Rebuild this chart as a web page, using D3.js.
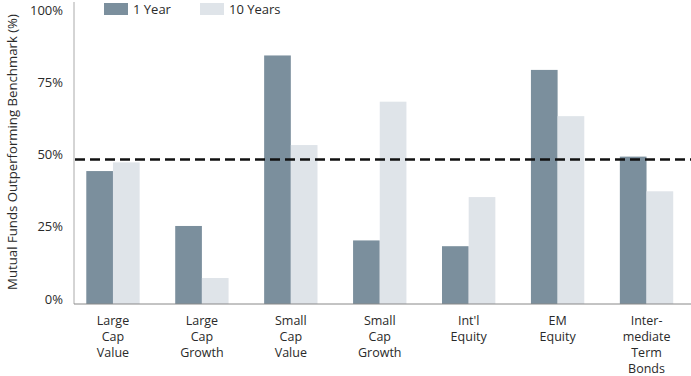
<!DOCTYPE html>
<html>
<head>
<meta charset="utf-8">
<script src="https://cdn.jsdelivr.net/npm/d3@7"></script>
<style>
  body { margin: 0; background: #fff; }
  text { font-family: "Open Sans", "Noto Sans", sans-serif; fill: #2a2a2a; }
</style>
</head>
<body>
<div id="container"></div>
<script>
/* CONSTANTS AND GLOBALS */
const width = 691,
  height = 376,
  margin = { top: 15, bottom: 72, left: 74, right: 0 };

// data
const categories = [
  ["Large", "Cap", "Value"],
  ["Large", "Cap", "Growth"],
  ["Small", "Cap", "Value"],
  ["Small", "Cap", "Growth"],
  ["Int'l", "Equity"],
  ["EM", "Equity"],
  ["Inter-", "mediate", "Term", "Bonds"]
];
const oneYear = [46, 27, 86, 22, 20, 81, 51];
const tenYears = [49, 9, 55, 70, 37, 65, 39];
const seriesNames = ["1 Year", "10 Years"];
const seriesColors = ["#7b8f9d", "#dfe4e9"];
const yTicks = [0, 25, 50, 75, 100];
const benchmark = 50;

const rows = categories.map((c, i) => ({
  key: c.join(" "),
  lines: c,
  values: [oneYear[i], tenYears[i]]
}));

const svg = d3.select("#container")
  .append("svg")
  .attr("width", width)
  .attr("height", height);

/* SCALES */
const xScale = d3.scaleBand()
  .domain(rows.map(d => d.key))
  .range([68.5, 691])
  .paddingInner(0.4)
  .paddingOuter(0.2);

const xSub = d3.scaleBand()
  .domain([0, 1])
  .range([0, xScale.bandwidth()]);

const yScale = d3.scaleLinear()
  .domain([0, 100])
  .range([height - margin.bottom, margin.top]);

const colorScale = d3.scaleOrdinal()
  .domain([0, 1])
  .range(seriesColors);

/* BARS */
svg.selectAll(".group")
  .data(rows)
  .join("g")
  .attr("class", "group")
  .attr("transform", d => `translate(${xScale(d.key)},0)`)
  .selectAll("rect")
  .data(d => d.values.map((v, i) => ({ v, i })))
  .join("rect")
  .attr("x", d => xSub(d.i))
  .attr("width", xSub.bandwidth())
  .attr("y", d => yScale(d.v))
  .attr("height", d => yScale(0) - yScale(d.v))
  .attr("fill", d => colorScale(d.i));

/* AXES */
const yAxis = svg.append("g")
  .attr("transform", `translate(${margin.left},0)`)
  .call(d3.axisLeft(yScale).tickValues(yTicks).tickSize(0).tickPadding(11).tickFormat(d => d + "%"));
yAxis.select(".domain").attr("stroke", "#aaa").attr("d", `M0,${yScale(0)}V2`);
yAxis.selectAll(".tick text")
  .attr("dy", "0.32em")
  .attr("y", -5)
  .style("font-size", "13px")
  .attr("fill", "#2a2a2a");

const xAxis = svg.append("g")
  .attr("transform", `translate(0,${yScale(0)})`)
  .call(d3.axisBottom(xScale).tickSize(0).tickFormat(""));
xAxis.select(".domain").attr("stroke", "#888").attr("d", `M${margin.left},0H${width}`);

// one text per line so the category labels wrap like the original
xAxis.selectAll(".tick").each(function (d, i) {
  d3.select(this).selectAll("text.cat")
    .data(rows[i].lines)
    .join("text")
    .attr("class", "cat")
    .attr("text-anchor", "middle")
    .attr("x", 0)
    .attr("y", (l, j) => 21 + j * 16)
    .style("font-size", "12.5px")
    .attr("fill", "#2a2a2a")
    .text(l => l);
});

/* BENCHMARK LINE */
svg.append("line")
  .attr("x1", margin.left + 1)
  .attr("x2", width)
  .attr("y1", yScale(benchmark))
  .attr("y2", yScale(benchmark))
  .attr("stroke", "#111")
  .attr("stroke-width", 2.5)
  .attr("stroke-dasharray", "10,5");

/* Y TITLE */
svg.append("text")
  .attr("transform", `translate(17,${152}) rotate(-90)`)
  .attr("text-anchor", "middle")
  .style("font-size", "13.2px")
  .text("Mutual Funds Outperforming Benchmark (%)");

/* LEGEND */
const legendX = [104, 200];
const legend = svg.selectAll(".legend")
  .data(seriesNames)
  .join("g")
  .attr("class", "legend")
  .attr("transform", (d, i) => `translate(${legendX[i]},3)`);
legend.append("rect")
  .attr("width", 24)
  .attr("height", 12)
  .attr("fill", (d, i) => colorScale(i));
legend.append("text")
  .attr("x", 29)
  .attr("y", 6)
  .attr("dy", "0.35em")
  .style("font-size", "13px")
  .text(d => d);
</script>
</body>
</html>
